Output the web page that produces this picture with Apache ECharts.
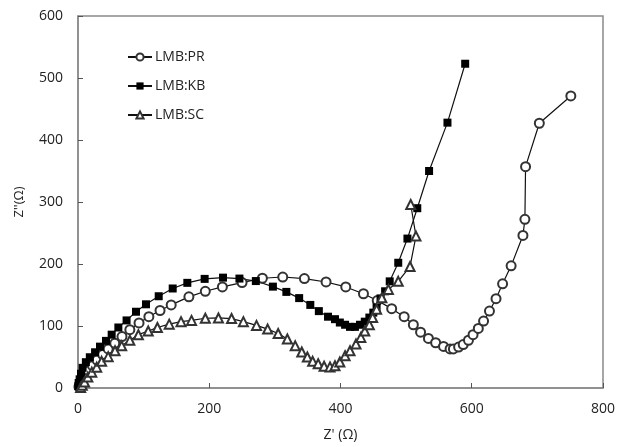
<!DOCTYPE html>
<html>
<head>
<meta charset="utf-8">
<script src="https://cdn.jsdelivr.net/npm/echarts@6/dist/echarts.min.js"></script>
<style>
  html, body { margin: 0; padding: 0; background: #fff; }
  #chart { width: 618px; height: 447px; }
</style>
</head>
<body>
<div id="chart"></div>
<script>
// Nyquist data: [Z', Z'']
var seriesNames = ['LMB:PR', 'LMB:KB', 'LMB:SC'];
var xTicks = [0, 200, 400, 600, 800];
var yTicks = [0, 100, 200, 300, 400, 500, 600];

var prData = [
    [1.5, 2], [3.5, 6], [7, 12], [11, 20], [16, 28], [22, 36], [29, 45], [37.6, 54],
    [46, 63], [56, 72], [67, 83], [79, 94], [93, 105], [108, 115], [125, 125],
    [142, 134], [169, 147], [194, 156], [220, 163], [250, 170], [281, 177],
    [312, 179], [345, 176.5], [378, 171], [408, 163], [435, 152], [456, 141],
    [478, 128], [497, 115], [511, 102], [522, 90], [534, 80], [545, 73],
    [557, 67], [567, 63], [572, 63], [580, 66], [587, 70], [595, 77], [602, 86],
    [610, 96], [618, 108], [627, 124], [637, 144], [647, 168], [660, 197],
    [678, 246], [681, 272], [682, 357], [703, 427], [751, 471]
];

var kbData = [
    [0.5, 3], [1, 8], [2.5, 14], [4.6, 23], [7, 32.5], [12, 41.6], [18, 49.6],
    [26, 57.6], [33.5, 66.7], [42.7, 76], [51.3, 86], [61.5, 97.6], [74, 109],
    [88.4, 123], [103.6, 135], [123, 148], [144.3, 160.5], [166.6, 169.6],
    [193, 176], [221, 178], [246, 176.5], [271, 172.5], [297, 163.5], [317.5, 155],
    [337, 145], [354, 134], [367, 124], [381, 115], [391.6, 111], [399, 105.6],
    [407, 102], [414.5, 98.6], [422, 98.6], [429.7, 102], [437, 107], [444, 113.6],
    [450, 121.6], [455, 130], [461, 144.5], [468, 156], [475, 172], [488, 202],
    [502, 241], [517, 290], [535, 350], [563, 428], [590, 523]
];

var scData = [
    [4, 1], [6.5, 4.3], [10, 9.6], [15, 17.6], [21, 25.6], [28.5, 33.6], [36, 43],
    [46, 50.6], [56.4, 60], [66.6, 68], [79, 77], [92, 86], [107, 92], [121, 97.6],
    [139, 103], [157, 107], [173, 109], [194, 112.5], [214, 113], [234, 112],
    [252, 107], [272, 101], [289, 95], [305, 88], [319, 79], [331, 68], [341, 58],
    [349.5, 50], [357.6, 43], [366, 39], [375, 35], [384, 34], [391.6, 36],
    [399, 42], [407, 52], [414.5, 60], [423.6, 71], [431, 81.6], [437, 92],
    [444, 102], [449, 113.6], [455, 127], [463, 145.6], [473, 159], [488, 172],
    [506, 196], [515, 245], [507, 296]
];

var chart = echarts.init(document.getElementById('chart'));

var axisFont = { fontFamily: 'Open Sans', fontSize: 14, color: '#222' };

var option = {
    animation: false,
    backgroundColor: '#fff',
    grid: {
        left: 78, right: 15, top: 16, bottom: 56,
        show: true, borderColor: '#8a8a8a', borderWidth: 1.5
    },
    legend: {
        orient: 'vertical',
        left: 122, top: 45,
        itemWidth: 24, itemHeight: 9, itemGap: 15,
        textStyle: { fontFamily: 'Open Sans', fontSize: 14, color: '#222', padding: [0, 0, 0, -2] },
        data: seriesNames
    },
    xAxis: {
        type: 'value',
        min: xTicks[0], max: xTicks[xTicks.length - 1], interval: 200,
        name: "Z' (\u03A9)", nameLocation: 'middle', nameGap: 40,
        nameTextStyle: axisFont,
        axisLine: { show: true, lineStyle: { color: '#8a8a8a', width: 1.5 } },
        axisTick: { show: true, inside: true, length: 5, lineStyle: { color: '#555' } },
        axisLabel: Object.assign({ margin: 14 }, axisFont),
        splitLine: { show: false }
    },
    yAxis: {
        type: 'value',
        min: yTicks[0], max: yTicks[yTicks.length - 1], interval: 100,
        name: "Z''(\u03A9)", nameLocation: 'middle', nameGap: 52,
        nameTextStyle: { fontFamily: 'Open Sans', fontSize: 13, color: '#222' },
        axisLine: { show: true, lineStyle: { color: '#8a8a8a', width: 1.5 } },
        axisTick: { show: true, inside: true, length: 5, lineStyle: { color: '#555' } },
        axisLabel: Object.assign({ margin: 15 }, axisFont),
        splitLine: { show: false }
    },
    series: [
        {
            name: seriesNames[0],
            type: 'line',
            data: prData,
            symbol: 'emptyCircle',
            symbolSize: 9,
            showAllSymbol: true,
            lineStyle: { color: '#111', width: 1.2 },
            itemStyle: { color: '#333', borderWidth: 0.8 }
        },
        {
            name: seriesNames[1],
            type: 'line',
            data: kbData,
            symbol: 'rect',
            symbolSize: 8,
            showAllSymbol: true,
            lineStyle: { color: '#111', width: 1.2 },
            itemStyle: { color: '#000' }
        },
        {
            name: seriesNames[2],
            type: 'line',
            data: scData,
            symbol: 'emptyTriangle',
            symbolSize: 9,
            showAllSymbol: true,
            lineStyle: { color: '#111', width: 1.2 },
            itemStyle: { color: '#333', borderWidth: 0.8 }
        }
    ]
};

chart.setOption(option);
</script>
</body>
</html>
